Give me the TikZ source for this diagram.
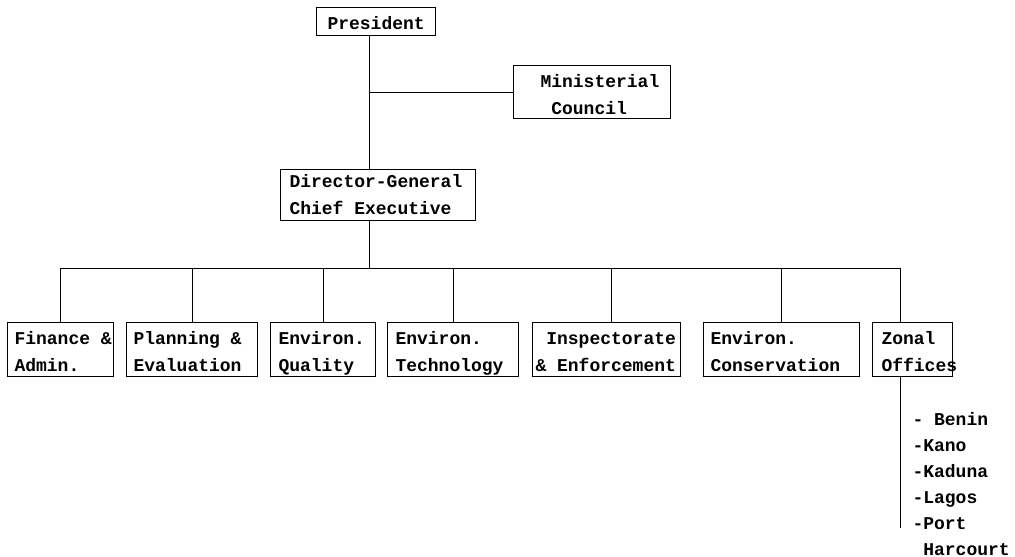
\documentclass[tikz,border=0pt]{standalone}
\usepackage{fontspec}
\setmonofont{Liberation Mono}
\newcommand{\onesp}{\hphantom{C}}
\newcommand{\orgline}[1]{\mbox{\vphantom{Ag}#1}}
\newcommand{\orgtop}[2]{\mbox{\rule{0pt}{#1}\vphantom{Ag}#2}}
\begin{document}
\begin{tikzpicture}[x=1pt,y=-1pt,line width=1pt,
  txt/.style={font=\ttfamily\bfseries\fontsize{18}{27}\selectfont},
  box/.style={txt,draw,rectangle,anchor=north west,align=left,inner ysep=0pt}]
\useasboundingbox (0,0) rectangle (1015,557);
% boxes
\node[box,minimum width=119pt,minimum height=28pt,inner xsep=11pt,text width=97pt] (pres) at (316,7) {\orgtop{19pt}{President}};
\node[box,minimum width=157pt,minimum height=53pt,inner xsep=27pt,text width=103pt] (min) at (513,65) {\orgtop{22pt}{Ministerial}\\\orgline{\onesp Council}};
\node[box,minimum width=195pt,minimum height=51pt,inner xsep=9pt,text width=177pt] (dg) at (280,169) {\orgtop{16pt}{Director-General}\\\orgline{Chief\onesp Executive}};
\node[box,minimum width=106pt,minimum height=54pt,inner xsep=7pt,text width=92pt] (fin) at (7,322) {\orgtop{20pt}{Finance\onesp\&}\\\orgline{Admin.}};
\node[box,minimum width=131pt,minimum height=54pt,inner xsep=7pt,text width=117pt] (plan) at (126,322) {\orgtop{20pt}{Planning\onesp\&}\\\orgline{Evaluation}};
\node[box,minimum width=105pt,minimum height=54pt,inner xsep=8pt,text width=89pt] (qual) at (270,322) {\orgtop{20pt}{Environ.}\\\orgline{Quality}};
\node[box,minimum width=131pt,minimum height=54pt,inner xsep=8pt,text width=115pt] (tech) at (387,322) {\orgtop{20pt}{Environ.}\\\orgline{Technology}};
\node[box,minimum width=148pt,minimum height=54pt,inner xsep=3pt,text width=142pt] (insp) at (532,322) {\orgtop{20pt}{\onesp Inspectorate}\\\orgline{\&\onesp Enforcement}};
\node[box,minimum width=156pt,minimum height=54pt,inner xsep=7pt,text width=142pt] (cons) at (703,322) {\orgtop{20pt}{Environ.}\\\orgline{Conservation}};
\node[box,minimum width=80pt,minimum height=54pt,inner xsep=9pt,text width=62pt] (zon) at (872,322) {\orgtop{20pt}{Zonal}\\\orgline{Offices}};
% zonal office list
\node[txt,anchor=north west,align=left,inner sep=0pt,font=\ttfamily\bfseries\fontsize{18}{26}\selectfont] (list) at (912,411.5)
  {\orgline{-\onesp Benin}\\\orgline{-Kano}\\\orgline{-Kaduna}\\\orgline{-Lagos}\\\orgline{-Port}\\\orgline{\onesp Harcourt}};
% connector points
\coordinate (spine) at (369,92);
\coordinate (bus) at (369,268);
\coordinate (busL) at (60,268);
\coordinate (busR) at (900,268);
\coordinate (inspTap) at (611,268);
\coordinate (zend) at (900,528);
% connectors
\draw (pres.south -| spine) -- (dg.north -| spine);
\draw (spine) -- (min.west |- spine);
\draw (dg.south -| spine) -- (bus);
\draw (busL) -- (busR);
\foreach \n in {fin,plan,qual,tech,cons}{\draw (\n.north |- busL) -- (\n.north);}
\draw (inspTap) -- (insp.north -| inspTap);
\draw (busR) -- (zon.north -| busR);
\draw (zon.south -| busR) -- (zend);
\end{tikzpicture}
\end{document}
